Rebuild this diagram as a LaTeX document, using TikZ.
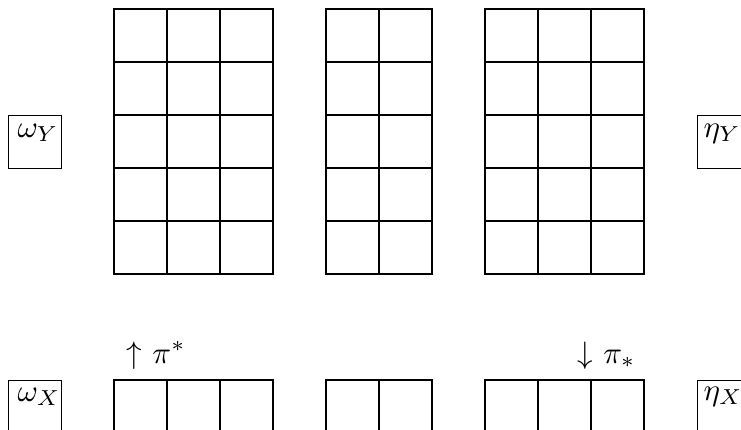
\documentclass[tikz,border=0pt]{standalone}
\begin{document}
\begin{tikzpicture}[x=0.011321cm,y=-0.011321cm,
  cellbox/.style={draw,line width=0.35pt},
  sidebox/.style={draw,line width=0.35pt,rectangle,inner sep=0pt,minimum width=0.6cm,minimum height=0.6cm,anchor=north west},
  lbl/.style={inner sep=0pt,anchor=base west}]
\useasboundingbox (0,0) rectangle (741,429);
\clip (0,0) rectangle (741,429);
% upper grids
\foreach \gx/\nc in {114/3,326/2,485/3}{
  \pgfmathtruncatemacro{\last}{\nc-1}
  \foreach \c in {0,...,\last}{
    \foreach \r in {0,...,4}{
      \draw[cellbox] (\gx+53*\c,9+53*\r) rectangle ++(53,53);
    }
  }
}
% lower grids (clipped)
\foreach \gx/\nc in {114/3,326/2,485/3}{
  \pgfmathtruncatemacro{\last}{\nc-1}
  \foreach \c in {0,...,\last}{
    \draw[cellbox] (\gx+53*\c,380) rectangle ++(53,53);
  }
}
% side boxes
\node[sidebox] (wYbox) at (8,115) {};
\node[sidebox] (eYbox) at (697,115) {};
\node[sidebox] (wXbox) at (8,380) {};
\node[sidebox] (eXbox) at (697,380) {};
\node[lbl] (wY) at (17,137) {$\omega_Y$};
\node[lbl] (eY) at (703,137) {$\eta_Y$};
\node[lbl] (wX) at (17,401) {$\omega_X$};
\node[lbl] (eX) at (703,400) {$\eta_X$};
% arrow labels
\node[lbl] (pullback) at (126,363) {$\uparrow$ $\pi^*$};
\node[lbl] (pushforward) at (577,363) {$\downarrow$ $\pi_*$};
\end{tikzpicture}
\end{document}
